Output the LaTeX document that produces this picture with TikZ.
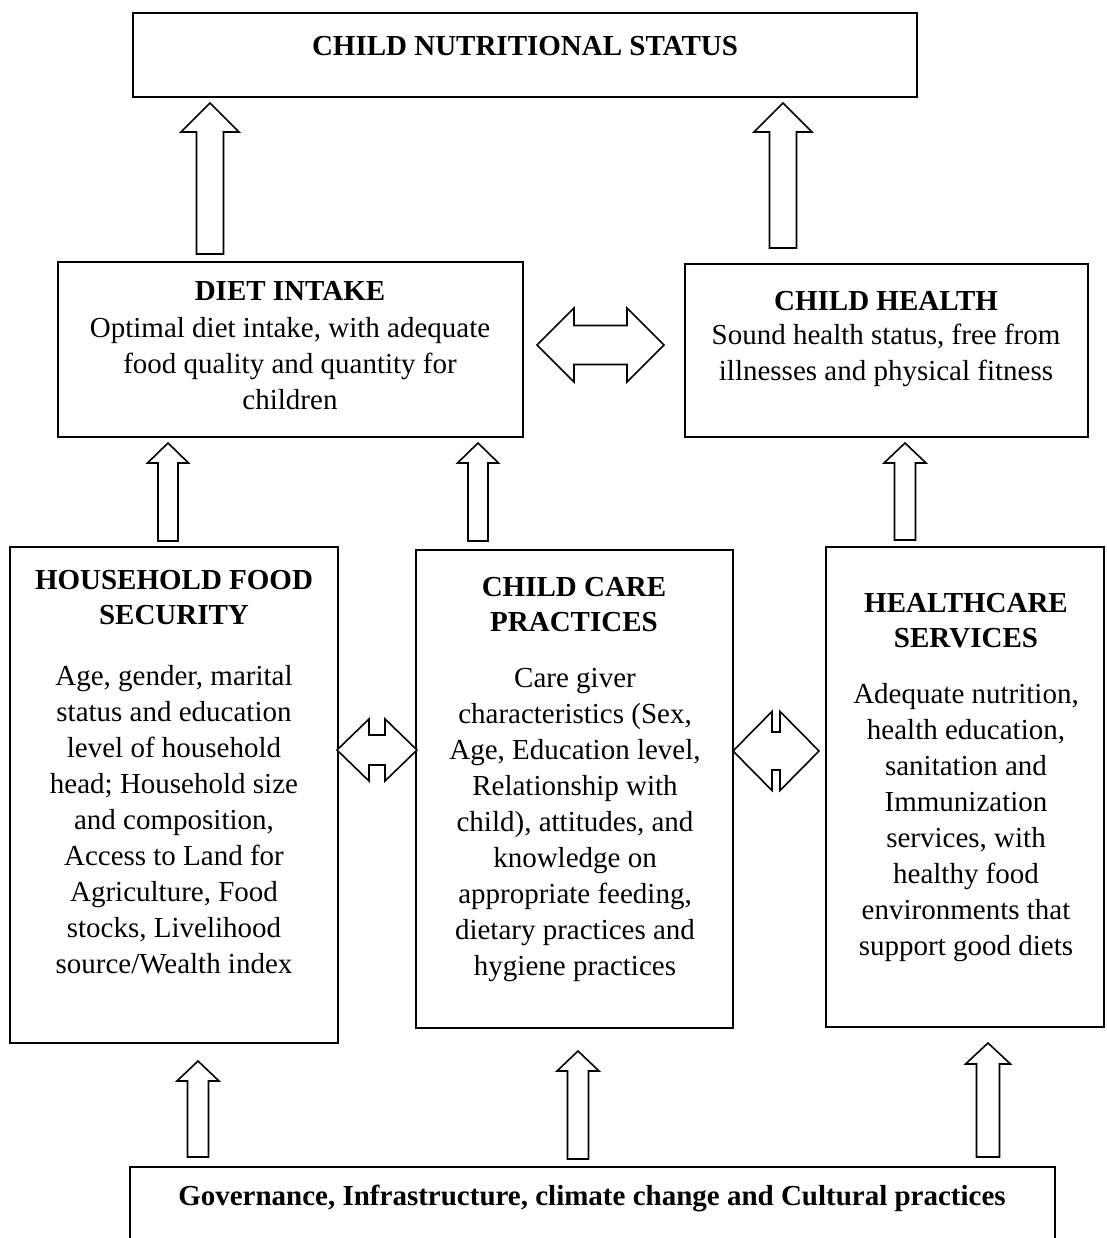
\documentclass[tikz,border=0pt]{standalone}
\usepackage{fontspec}
\setmainfont{Liberation Serif}
\newcommand\UpBlk[6]{% x, ybottom, ytip, shaft half, head half, head length
  \draw[blk] (#1-#4,#2) -- (#1-#4,#3+#6) -- (#1-#5,#3+#6) -- (#1,#3) -- (#1+#5,#3+#6) -- (#1+#4,#3+#6) -- (#1+#4,#2) -- cycle;}
\newcommand\DblBlk[6]{% y, xleft, xright, head length, head half, shaft half
  \draw[blk] (#2,#1) -- (#2+#4,#1-#5) -- (#2+#4,#1-#6) -- (#3-#4,#1-#6) -- (#3-#4,#1-#5) -- (#3,#1) -- (#3-#4,#1+#5) -- (#3-#4,#1+#6) -- (#2+#4,#1+#6) -- (#2+#4,#1+#5) -- cycle;}
\begin{document}
\begin{tikzpicture}[x=1pt,y=-1pt,
  box/.style={draw, line width=2pt, inner sep=0pt},
  blk/.style={draw, line width=1.6pt, fill=white, line join=miter},
  txt/.style={align=center, inner sep=0pt, font=\fontsize{29}{36}\selectfont},
  hd/.style={align=center, inner sep=0pt, font=\fontsize{29}{35}\selectfont\bfseries}]
\useasboundingbox (0,0) rectangle (1106,1238);
\clip (0,0) rectangle (1106,1238);
% boxes
\node[box, minimum width=784, minimum height=84] (cns) at (525,55) {};
\node[box, minimum width=465, minimum height=175] (diet) at (290.5,349.5) {};
\node[box, minimum width=403, minimum height=173] (health) at (886.5,350.5) {};
\node[box, minimum width=328, minimum height=496] (hfs) at (174,795) {};
\node[box, minimum width=317, minimum height=478] (ccp) at (574.5,789) {};
\node[box, minimum width=278, minimum height=480] (hcs) at (965,787) {};
\node[box, minimum width=925, minimum height=166] (gov) at (592.5,1250) {};
% texts
\node[hd] (t1) at (525,46) {CHILD NUTRITIONAL STATUS};
\node[hd] (t2) at (290,291) {DIET INTAKE};
\node[txt] (b2) at (290,364) {Optimal diet intake, with adequate\\food quality and quantity for\\children};
\node[hd] (t3) at (886,301) {CHILD HEALTH};
\node[txt] (b3) at (886,355) {Sound health status, free from\\illnesses and physical fitness};
\node[hd] (t4) at (174,597.5) {HOUSEHOLD FOOD\\SECURITY};
\node[txt] (b4) at (174,819.5) {Age, gender, marital\\status and education\\level of household\\head; Household size\\and composition,\\Access to Land for\\Agriculture, Food\\stocks, Livelihood\\source/Wealth index};
\node[hd] (t5) at (574,604.5) {CHILD CARE\\PRACTICES};
\node[txt] (b5) at (575,825.5) {Care giver\\characteristics (Sex,\\Age, Education level,\\Relationship with\\child), attitudes, and\\knowledge on\\appropriate feeding,\\dietary practices and\\hygiene practices};
\node[hd] (t6) at (966,620.5) {HEALTHCARE\\SERVICES};
\node[txt] (b6) at (966,822.5) {Adequate nutrition,\\health education,\\sanitation and\\Immunization\\services, with\\healthy food\\environments that\\support good diets};
\node[hd] (t7) at (592,1198) {Governance, Infrastructure, climate change and Cultural practices};
% block arrows
\UpBlk{210}{254}{103}{13.5}{29}{29}
\UpBlk{783}{248}{103}{13.5}{29}{29}
\UpBlk{168}{541}{443}{10}{20.5}{20}
\UpBlk{478}{541}{443}{10}{20.5}{20}
\UpBlk{905}{540}{443}{10.5}{21}{20}
\UpBlk{198}{1157}{1061}{10.5}{21}{20}
\UpBlk{578}{1159}{1051}{10.5}{21}{20}
\UpBlk{988}{1157}{1043}{11.5}{22.5}{21}
\DblBlk{345}{537}{664}{37}{37}{19.5}
\DblBlk{750}{337}{417}{32}{31}{15}
\DblBlk{751}{733}{819}{39}{39.5}{19}
\end{tikzpicture}
\end{document}
